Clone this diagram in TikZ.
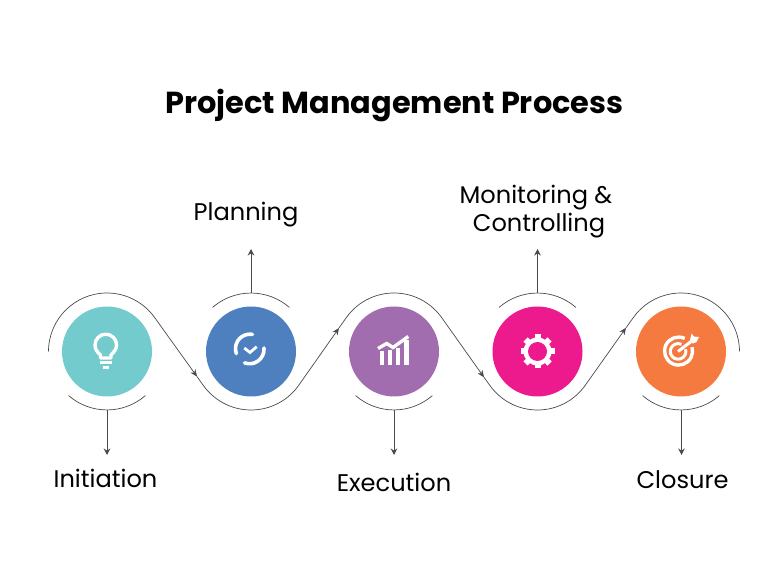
\documentclass[tikz,border=0pt]{standalone}
\usepackage{fontspec}
\usepackage{tikz}
\usetikzlibrary{arrows.meta}
\setmainfont{Poppins}

\definecolor{tealc}{HTML}{74CBCE}
\definecolor{bluec}{HTML}{4E80BF}
\definecolor{purplec}{HTML}{A26DAF}
\definecolor{pinkc}{HTML}{EC1A8C}
\definecolor{orangec}{HTML}{F47A3F}
\definecolor{linec}{HTML}{4A4A4A}

\tikzset{
	stage/.style={shape=circle,minimum size=90pt,inner sep=0pt},
	wave/.style={draw=linec,line width=0.7pt,-{Stealth[length=7pt,width=6pt]}},
	halfarc/.style={draw=linec,line width=0.7pt},
	stem/.style={draw=linec,line width=0.8pt,-{Stealth[length=6.5pt,width=6.5pt]}},
	stagetext/.style={font=\fontsize{24.1}{28}\selectfont,inner sep=0pt,align=center},
	icon/.style={draw=white,line width=3.4pt},
}

\begin{document}
\begin{tikzpicture}[x=1pt,y=1pt]
	\useasboundingbox (0,0) rectangle (768,578);

	\node[font=\fontsize{30.4}{36}\selectfont\bfseries,inner sep=0pt] (title) at (394.5,472) {Project Management Process};

	\node[stage,fill=tealc] (initiation) at (107,226.5) {};
	\node[stage,fill=bluec] (planning) at (251,226.5) {};
	\node[stage,fill=purplec] (execution) at (394,226.5) {};
	\node[stage,fill=pinkc] (monitoring) at (537.5,226.5) {};
	\node[stage,fill=orangec] (closure) at (681,226.5) {};

	\node[stagetext] (initiationText) at (105.5,100) {Initiation};
	\node[stagetext] (planningText) at (246,363) {Planning};
	\node[stagetext] (executionText) at (394,96) {Execution};
	\node[stagetext] (monitoringText) at (536,366) {Monitoring \&\\\hspace*{6pt}Controlling};
	\node[stagetext] (closureText) at (682.5,98) {Closure};

	% wave through the stages
	\coordinate (waveStart) at (48.5,226.5);
	\coordinate (tipA) at (197,201.4);
	\coordinate (tipB) at (339,250);
	\coordinate (tipC) at (484,200.7);
	\coordinate (tipD) at (626,250.2);
	\draw[wave] (waveStart) arc (180:35.4:58.5) -- (tipA);
	\draw[wave] (tipA) -- (203.3,192.6) arc (215.4:324.6:58.5) -- (tipB);
	\draw[wave] (tipB) -- (346.3,260.4) arc (144.6:35.4:58.5) -- (tipC);
	\draw[wave] (tipC) -- (489.8,192.6) arc (215.4:324.6:58.5) -- (tipD);
	\draw[wave,-] (tipD) -- (633.3,260.4) arc (144.6:0:58.5);

	% short arcs on the free side
	\draw[halfarc] (68.6,182.4) arc (229:311:58.5);
	\draw[halfarc] (212.6,270.6) arc (131:49:58.5);
	\draw[halfarc] (355.6,182.4) arc (229:311:58.5);
	\draw[halfarc] (499.1,270.6) arc (131:49:58.5);
	\draw[halfarc] (642.6,182.4) arc (229:311:58.5);

	\coordinate (initiationFrom) at (107,168);
	\coordinate (initiationTo) at (107,123);
	\coordinate (planningFrom) at (251,285);
	\coordinate (planningTo) at (251,329);
	\coordinate (executionFrom) at (394,168);
	\coordinate (executionTo) at (394,123);
	\coordinate (monitoringFrom) at (537.5,285);
	\coordinate (monitoringTo) at (537.5,329);
	\coordinate (closureFrom) at (681.5,168);
	\coordinate (closureTo) at (681.5,123);

	\draw[stem] (initiationFrom) -- (initiationTo);
	\draw[stem] (planningFrom) -- (planningTo);
	\draw[stem] (executionFrom) -- (executionTo);
	\draw[stem] (monitoringFrom) -- (monitoringTo);
	\draw[stem] (closureFrom) -- (closureTo);

	% bulb
	\draw[icon,line join=round] (100.5,220) -- (100.5,223) .. controls (97,226) and (95,229) .. (95,233) arc (180:0:10.8) .. controls (116.6,229) and (114,226) .. (111,223) -- (111,220) -- cycle;
	\draw[icon,line width=2.8pt] (99.5,215.2) -- (112,215.2);
	\draw[icon,line width=2.4pt] (102.5,210.5) -- (109,210.5);

	% check
	\draw[icon,line width=3.6pt,line cap=round] (252.5,243.6) arc (80:200:14.5);
	\draw[icon,line width=3.6pt,line cap=round] (264,230) arc (5:-110:14.5);
	\draw[icon,line width=2.8pt] (244.3,230) -- (250,225.5) -- (256.7,231.3);

	% chart
	\draw[draw=white,line width=4.2pt] (381.7,213) -- (381.7,226.5);
	\draw[draw=white,line width=4.2pt] (390,213) -- (390,227.5);
	\draw[draw=white,line width=4.2pt] (398.3,213) -- (398.3,230);
	\draw[draw=white,line width=4.2pt] (406.5,213) -- (406.5,238);
	\draw[draw=white,line width=3.4pt] (378,229.5) -- (386.7,234.5) -- (393,230.5) -- (408.3,241.5);

	% gear
	\draw[draw=white,line width=6pt] (554.5,226.5) -- (520.5,226.5);
	\draw[draw=white,line width=6pt] (537.5,243.5) -- (537.5,209.5);
	\draw[draw=white,line width=6pt] (549.5,238.5) -- (525.5,214.5);
	\draw[draw=white,line width=6pt] (525.5,238.5) -- (549.5,214.5);
	\fill[white] (537.5,226.5) circle (14);
	\fill[pinkc] (537.5,226.5) circle (9.5);

	% target
	\draw[icon] (684.7,239.5) arc (64:376:14);
	\draw[icon,line width=3pt] (681.5,233.6) arc (64:376:7.8);
	\draw[icon,line width=3pt] (678,226.5) -- (693,238);
	\fill[white] (689.5,235.5) -- (691.5,244.5) -- (694,241.5) -- (699,241) -- (696.5,236) -- (693,234.5) -- cycle;
\end{tikzpicture}
\end{document}
